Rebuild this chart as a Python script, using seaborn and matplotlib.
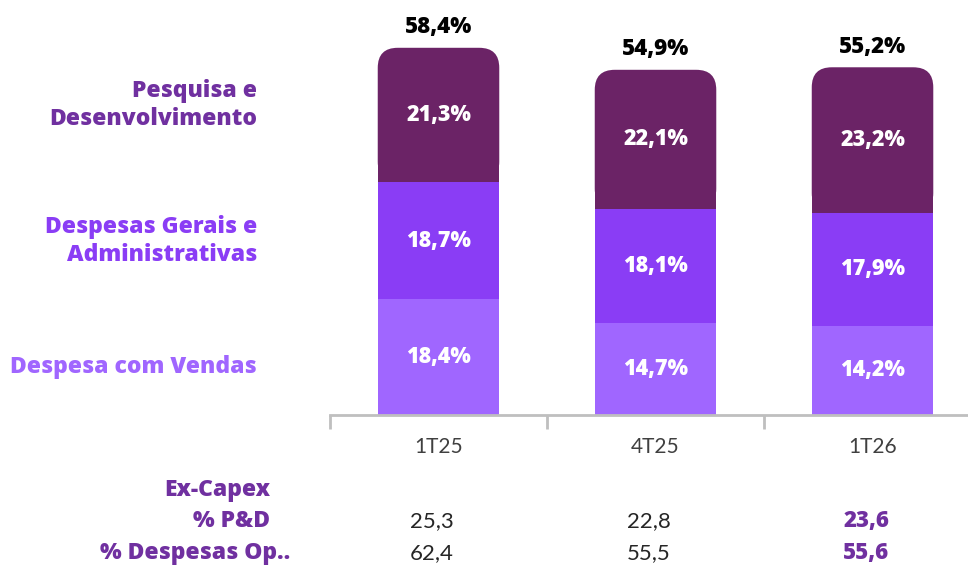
import numpy as np
import pandas as pd
import matplotlib
matplotlib.use('Agg')
import matplotlib.pyplot as plt
from matplotlib.patches import FancyBboxPatch
from matplotlib import transforms
import seaborn as sns

# dados
periodos = ['1T25', '4T25', '1T26']
vendas = [18.4, 14.7, 14.2]
gerais = [18.7, 18.1, 17.9]
pesquisa = [21.3, 22.1, 23.2]
totais = [58.4, 54.9, 55.2]
exc_pd = ['25,3', '22,8', '23,6']
exc_desp = ['62,4', '55,5', '55,6']

cor_top = '#6B2366'
cor_mid = '#8A3DF5'
cor_base = '#A066FF'
roxo_txt = '#7030A0'

sns.set_theme(style='white')
plt.rcParams['font.family'] = ['Lato', 'DejaVu Sans']
negrito = ['Open Sans', 'DejaVu Sans']
peso = 'heavy'

fig = plt.figure(figsize=(9.68, 5.65), dpi=100)
ax = fig.add_axes([330 / 968, 150 / 565, 1 - 330 / 968, 415 / 565])

df = pd.DataFrame({'periodo': periodos, 'vendas': vendas, 'gerais': gerais, 'pesquisa': pesquisa})
base2 = np.array(vendas)
base3 = base2 + np.array(gerais)

larg = 0.56
sns.barplot(data=df, x='periodo', y='vendas', color=cor_base, width=larg, saturation=1, linewidth=0, ax=ax)
sns.barplot(data=df, x='periodo', y='gerais', bottom=base2, color=cor_mid, width=larg, saturation=1, linewidth=0, ax=ax)
sns.barplot(data=df, x='periodo', y='pesquisa', bottom=base3, color=cor_top, width=larg, saturation=1, linewidth=0, ax=ax)

ymax = 66
ax.set_xlim(-0.5, 2.44)
ax.set_ylim(0, ymax)

# arredondar topo das barras de P&D
px_x = 217.0
px_y = 415.0 / ymax
for p in ax.patches[6:9]:
    x, y, w, h = p.get_x(), p.get_y(), p.get_width(), p.get_height()
    r = 20 / px_x
    fb = FancyBboxPatch((x, y), w, h, boxstyle=f'round,pad=0,rounding_size={r}',
                        mutation_aspect=px_x / px_y, facecolor=cor_top, edgecolor='none',
                        linewidth=0, zorder=p.get_zorder() - 0.1)
    ax.add_patch(fb)
    p.set_height(h / 2)

# rótulos dentro das barras
def fmt(v):
    return f'{v:.1f}%'.replace('.', ',')

for i in range(3):
    ax.text(i, vendas[i] / 2, fmt(vendas[i]), ha='center', va='center', family=negrito,
            color='white', fontsize=15.5, fontweight=peso, zorder=5)
    ax.text(i, base2[i] + gerais[i] / 2, fmt(gerais[i]), ha='center', va='center', family=negrito,
            color='white', fontsize=15.5, fontweight=peso, zorder=5)
    ax.text(i, base3[i] + pesquisa[i] / 2, fmt(pesquisa[i]), ha='center', va='center', family=negrito,
            color='white', fontsize=15.5, fontweight=peso, zorder=5)
    ax.text(i, totais[i] + 3.3, fmt(totais[i]), ha='center', va='center', family=negrito,
            color='black', fontsize=16, fontweight=peso)

# eixos
sns.despine(ax=ax, left=True, top=True, right=True)
ax.spines['bottom'].set_color('#BFBFBF')
ax.spines['bottom'].set_linewidth(2)
ax.set_yticks([])
ax.set_xlabel('')
ax.set_ylabel('')
ax.set_xticks([0, 1, 2])
ax.set_xticklabels(periodos, fontsize=15, color='#404040')
ax.tick_params(axis='x', which='major', length=0, pad=16)
ax.set_xticks([-0.5, 0.5, 1.5], minor=True)
ax.tick_params(axis='x', which='minor', length=10, width=2, color='#BFBFBF', direction='out', bottom=True)

# rótulos da esquerda
def fy(py):
    return 1 - py / 565

fig.text(257 / 968, fy(105), 'Pesquisa e\nDesenvolvimento', ha='right', va='center', color=roxo_txt,
         family=negrito, fontsize=16.5, fontweight=peso, linespacing=1.2)
fig.text(257 / 968, fy(241), 'Despesas Gerais e\nAdministrativas', ha='right', va='center', color=cor_mid,
         family=negrito, fontsize=16.5, fontweight=peso, linespacing=1.2)
fig.text(257 / 968, fy(367), 'Despesa com Vendas', ha='right', va='center', color=cor_base,
         family=negrito, fontsize=16.5, fontweight=peso)

# tabela Ex-Capex
fig.text(270 / 968, fy(490), 'Ex-Capex', ha='right', va='center', color=roxo_txt, family=negrito,
         fontsize=16.5, fontweight=peso)
fig.text(270 / 968, fy(521), '% P&D', ha='right', va='center', color=roxo_txt, family=negrito,
         fontsize=16.5, fontweight=peso)
fig.text(290 / 968, fy(553), '% Despesas Op..', ha='right', va='center', color=roxo_txt, family=negrito,
         fontsize=16.5, fontweight=peso)

trans = transforms.blended_transform_factory(ax.transData, fig.transFigure)
for i in range(3):
    if i == 2:
        kw = dict(color=roxo_txt, fontweight=peso, family=negrito)
    else:
        kw = dict(color='#262626', fontweight='normal')
    ax.text(i - 0.03, fy(521), exc_pd[i], ha='center', va='center', transform=trans, fontsize=16, clip_on=False, **kw)
    ax.text(i - 0.03, fy(553), exc_desp[i], ha='center', va='center', transform=trans, fontsize=16, clip_on=False, **kw)

fig.savefig('out.png', dpi=100)
